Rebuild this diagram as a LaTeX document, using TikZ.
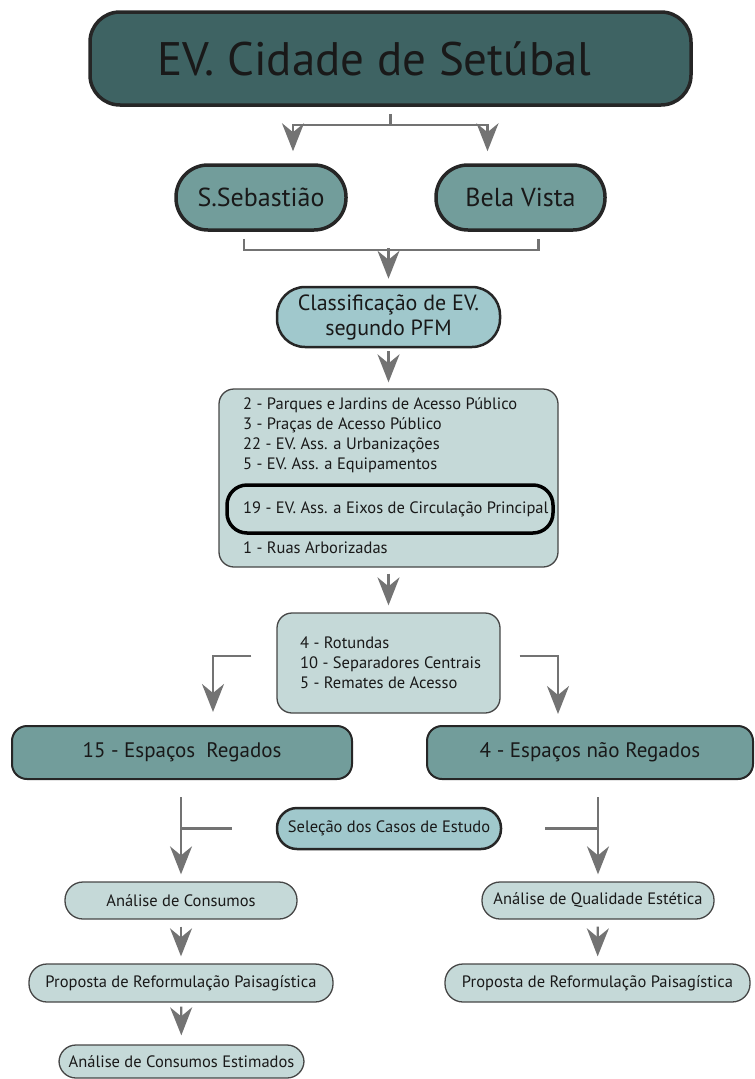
\documentclass[tikz,border=0pt]{standalone}
\usepackage{fontspec}
\setmainfont{PT Sans}
\usepackage{xcolor}
\usepackage{tikz}
\usetikzlibrary{arrows.meta}
\definecolor{darkteal}{RGB}{62,99,99}
\definecolor{midteal}{RGB}{114,157,155}
\definecolor{lightteal}{RGB}{160,200,204}
\definecolor{paleteal}{RGB}{197,217,216}
\definecolor{arrowgray}{RGB}{115,115,115}
\definecolor{edgegray}{RGB}{70,70,70}

\begin{document}
\begin{tikzpicture}[x=1pt, y=-1pt]
    \tikzstyle{box} = [rectangle, inner sep=0pt, text centered, text=black!90]
    \tikzstyle{top} = [box, rounded corners=30pt, draw=black!85, line width=3.5pt, fill=darkteal, font=\fontsize{47}{52}\selectfont]
    \tikzstyle{zone} = [box, rounded corners=32pt, draw=black!85, line width=3.5pt, fill=midteal, font=\fontsize{26}{30}\selectfont]
    \tikzstyle{pill} = [box, rounded corners=20pt, draw=black!85, line width=2.5pt, fill=lightteal]
    \tikzstyle{group} = [box, rounded corners=15pt, draw=edgegray, line width=1.3pt, fill=paleteal]
    \tikzstyle{kind} = [box, rounded corners=15pt, draw=black!85, line width=2pt, fill=midteal, font=\fontsize{21}{25}\selectfont]
    \tikzstyle{task} = [box, rounded corners=18pt, draw=edgegray, line width=1.3pt, fill=paleteal, font=\fontsize{16.5}{20}\selectfont]
    \tikzstyle{line} = [draw=arrowgray, line width=2.3pt]
    \tikzstyle{arr} = [line, -{Stealth[length=28pt, width=22pt, inset=9pt]}]

    \useasboundingbox (0,0) rectangle (755,1079);

    % Top level
    \node [top, minimum width=601pt, minimum height=93pt] (cidade) at (390.5,58.5) {EV. Cidade de Setúbal\hspace*{32pt}};
    \node [zone, minimum width=170pt, minimum height=65pt] (sebastiao) at (261,197.5) {S.Sebastião};
    \node [zone, minimum width=169pt, minimum height=65pt] (belavista) at (520.5,197.5) {Bela Vista};

    % Classification
    \node [pill, rounded corners=28pt, minimum width=223pt, minimum height=60pt, align=center, font=\fontsize{22}{25}\selectfont] (pfm) at (388.5,317) {Classificação de EV.\\segundo PFM};
    \node [group, minimum width=339pt, minimum height=178pt] (classes) at (388.5,478) {};
    \node [box, anchor=north west, align=left, font=\fontsize{16.5}{20.3}\selectfont] (lista) at (243,397) {2 - Parques e Jardins de Acesso Público\\3 - Praças de Acesso Público\\22 - EV. Ass. a Urbanizações\\5 - EV. Ass. a Equipamentos};
    \node [box, rounded corners=20pt, draw=black, line width=3.5pt, minimum width=326pt, minimum height=48pt] (eixos) at (390,509) {};
    \node [box, anchor=west, font=\fontsize{16.5}{20}\selectfont] (eixostxt) at (243,509) {19 - EV. Ass. a Eixos de Circulação Principal};
    \node [box, anchor=west, font=\fontsize{16.5}{20}\selectfont] (ruas) at (243,548) {1 - Ruas Arborizadas};
    \node [group, minimum width=223pt, minimum height=100pt] (tipos) at (388.5,663) {};
    \node [box, anchor=west, align=left, font=\fontsize{16.5}{20}\selectfont] (tiposlista) at (300,663) {4 - Rotundas\\10 - Separadores Centrais\\5 - Remates de Acesso};

    % Irrigated / not irrigated
    \node [kind, minimum width=340pt, minimum height=53pt] (regados) at (182,752.5) {15 - Espaços\ \ Regados};
    \node [kind, minimum width=326pt, minimum height=53pt] (naoregados) at (590,752.5) {4 - Espaços não Regados};
    \node [pill, minimum width=224pt, minimum height=41pt, font=\fontsize{16.5}{20}\selectfont] (selecao) at (389,828.5) {Seleção dos Casos de Estudo};

    % Case studies
    \node [task, minimum width=232pt, minimum height=37pt] (consumos) at (181,900.5) {Análise de Consumos};
    \node [task, minimum width=304pt, minimum height=38pt] (propostaA) at (181,983) {Proposta de Reformulação Paisagística};
    \node [task, rounded corners=17pt, minimum width=245pt, minimum height=33pt] (estimados) at (181.5,1061.5) {Análise de Consumos Estimados};
    \node [task, minimum width=232pt, minimum height=37pt] (qualidade) at (598,900.5) {Análise de Qualidade Estética};
    \node [task, minimum width=305pt, minimum height=38pt] (propostaB) at (597.5,983) {Proposta de Reformulação Paisagística};

    % Arrows
    \draw [arr, shorten <=7pt, shorten >=12pt] (cidade.south) -- ++(0,18) -| ([xshift=32pt]sebastiao.north);
    \draw [arr, shorten >=12pt] ([yshift=-18pt]cidade.south) -| ([xshift=-33pt]belavista.north);
    \draw [line] ([xshift=-17pt,yshift=-7pt]sebastiao.south) |- ([xshift=18pt,yshift=-18pt]belavista.south) -- ([xshift=18pt,yshift=-7pt]belavista.south);
    \draw [arr, shorten >=7pt] (pfm.north |- 0,248) -- (pfm.north);
    \draw [arr, shorten <=3pt, shorten >=6pt] (pfm.south) -- (classes.north -| pfm.south);
    \draw [arr, shorten <=6pt, shorten >=7pt] (classes.south) -- (tipos.north);
    \draw [arr, shorten >=13pt] ([xshift=-25pt,yshift=7pt]tipos.west) -| ([xshift=31pt]regados.north);
    \draw [arr, shorten >=11pt] ([xshift=19pt,yshift=7pt]tipos.east) -| ([xshift=-32pt]naoregados.north);
    \draw [arr, shorten <=17pt, shorten >=7pt] (regados.south -| consumos.north) -- (consumos.north);
    \draw [line] ([xshift=-44pt]selecao.west) -- (selecao.west -| consumos.north);
    \draw [arr, shorten <=17pt, shorten >=7pt] (naoregados.south -| qualidade.north) -- (qualidade.north);
    \draw [line] ([xshift=43pt]selecao.east) -- (selecao.east -| qualidade.north);
    \draw [arr, shorten <=7pt, shorten >=7pt] (consumos) -- (propostaA);
    \draw [arr, shorten <=4pt, shorten >=9pt] (propostaA) -- (estimados);
    \draw [arr, shorten <=7pt, shorten >=7pt] (qualidade) -- (propostaB);
\end{tikzpicture}
\end{document}
